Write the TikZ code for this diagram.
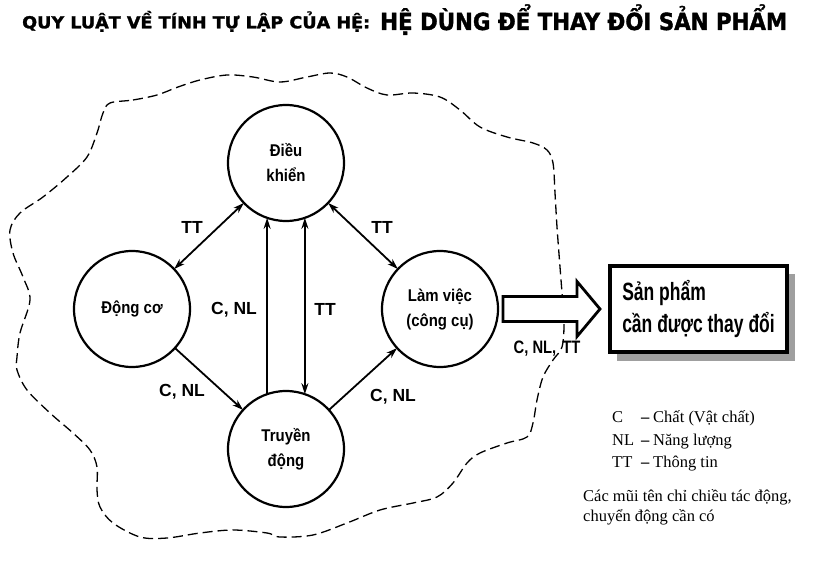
\documentclass[tikz,border=0pt]{standalone}
\usepackage{fontspec}
\usepackage{graphicx}
\usetikzlibrary{arrows.meta,calc,shadows}
\setmainfont{Liberation Serif}
\newfontfamily\titlefont{DejaVu Sans}[BoldFeatures={FakeBold=1.6}]
\newfontfamily\circfont{Liberation Sans}[FakeStretch=0.88]
\newfontfamily\labfont{Liberation Sans}
\newfontfamily\boxfont{Liberation Sans}[FakeStretch=0.7]
\newfontfamily\arrlabfont{Liberation Sans}[FakeStretch=0.82]
\newsavebox\fitbox
\newlength\fitlen
\newcommand\fitw[2]{\sbox\fitbox{#2}\setlength\fitlen{\wd\fitbox}\pgfmathsetmacro\fitratio{#1/\fitlen}\scalebox{\fitratio}[1]{\usebox\fitbox}}
\tikzset{
  circ/.style={circle, draw, line width=2.2pt, minimum size=116pt, inner sep=0pt, outer sep=0pt, align=center,
    font=\circfont\bfseries\fontsize{17}{25}\selectfont},
  conn/.style={line width=1.8pt, -{Stealth[length=11pt,width=7pt]}},
  bconn/.style={line width=1.8pt, {Stealth[length=11pt,width=7pt]}-{Stealth[length=11pt,width=7pt]}},
  elab/.style={font=\labfont\bfseries\fontsize{17.5}{19}\selectfont, inner sep=0pt},
  leg/.style={font=\fontsize{16.5}{18}\selectfont, inner sep=0pt, anchor=base west},
  cloudline/.style={dash pattern=on 10pt off 5pt, line width=1.3pt},
}
\begin{document}
\begin{tikzpicture}[x=1pt,y=-1pt]
\useasboundingbox (0,0) rectangle (816,572);
\fill[white] (0,0) rectangle (816,572);

% title
\node[anchor=base west, inner sep=0pt] (t1) at (22,28.3)
  {\fitw{348}{\titlefont\bfseries\fontsize{16.5}{18}\selectfont QUY LUẬT VỀ TÍNH TỰ LẬP CỦA HỆ:}};
\node[anchor=base west, inner sep=0pt] (t2) at (380,30)
  {\fitw{407}{\titlefont\bfseries\fontsize{23.5}{26}\selectfont HỆ DÙNG ĐỂ THAY ĐỔI SẢN PHẨM}};

% dashed system boundary
\draw[cloudline] plot[smooth cycle, tension=0.55] coordinates {
 (110,103) (133,100) (157,95) (178,87) (200,80) (227,75) (253,77) (280,82) (307,77) (330,73)
 (347,77) (367,88) (387,95) (413,93) (440,97) (460,110) (480,127) (507,137) (533,143) (547,150)
 (553,163) (555,193) (557,227) (560,267) (562,293) (564,323) (562,347) (553,360) (543,377)
 (537,400) (533,423) (527,437) (507,443) (480,453) (467,463) (453,483) (437,497) (413,503)
 (380,510) (347,523) (313,535) (280,537) (267,533) (233,530) (200,533) (167,538) (140,537)
 (113,523) (100,507) (97,490) (97,467) (90,450) (73,433) (50,413) (27,390) (17,370) (17,357)
 (20,333) (30,300) (23,277) (13,253) (10,230) (20,213) (43,197) (67,177) (87,157) (97,133) (103,113)};

% circles
\node[circ] (dk) at (286,163) {Điều\\khiển};
\node[circ] (dc) at (132,309) {Động cơ};
\node[circ] (lv) at (440,309) {Làm việc\\(công cụ)};
\node[circ] (td) at (286,449) {Truyền\\động};

% connectors
\draw[bconn] (dc) -- (dk);
\draw[bconn] (dk) -- (lv);
\draw[conn] (dc) -- (td);
\draw[conn] (td) -- (lv);
\draw[conn] (td.109) -- (dk.251);
\draw[bconn] (dk.289) -- (td.71);

% edge labels
\node[elab] (l1) at (192,227) {TT};
\node[elab] (l2) at (382,227) {TT};
\node[elab] (l3) at (234,310) {C, NL};
\node[elab] (l4) at (325,309) {TT};
\node[elab] (l5) at (182,392) {C, NL};
\node[elab] (l6) at (393,397) {C, NL};

% big output arrow
\coordinate (ba) at (lv.east);
\draw[line width=2.8pt, fill=white, line join=miter]
  ($(ba)+(5,-12.5)$) -- ($(ba)+(79,-12.5)$) -- ($(ba)+(79,-27.5)$) -- ($(ba)+(102,0)$)
  -- ($(ba)+(79,27.5)$) -- ($(ba)+(79,12.5)$) -- ($(ba)+(5,12.5)$) -- cycle;
\node[inner sep=0pt, font=\arrlabfont\bfseries\fontsize{18}{19}\selectfont] (l7) at (547,349) {C, NL,\hspace{6pt}TT};

% product box
\node[draw, line width=3pt, fill=white, minimum width=178pt, minimum height=87pt, inner sep=0pt,
  align=left, font=\boxfont\bfseries\fontsize{25}{32}\selectfont,
  drop shadow={shadow xshift=7.5pt, shadow yshift=-8pt, fill=gray!75, opacity=1}]
  (sp) at (698.5,309) {Sản phẩm\\cần được thay đổi};
\draw[line width=1.2pt] ($(sp.north west)+(3.8,3.8)$) rectangle ($(sp.south east)+(-3.8,-3.8)$);

% legend
\node[leg] (k1) at (612,422.7) {C};
\node[leg] (k2) at (612,445) {NL};
\node[leg] (k3) at (612,467) {TT};
\node[leg] (d1) at (641,422.7) {\textbf{–}};
\node[leg] (d2) at (641,445) {\textbf{–}};
\node[leg] (d3) at (641,467) {\textbf{–}};
\node[leg] (v1) at (653,422.7) {Chất (Vật chất)};
\node[leg] (v2) at (653,445) {Năng lượng};
\node[leg] (v3) at (653,467) {Thông tin};
\node[leg] (n1) at (583,501.7) {Các mũi tên chỉ chiều tác động,};
\node[leg] (n2) at (583,521) {chuyển động cần có};
\end{tikzpicture}
\end{document}
